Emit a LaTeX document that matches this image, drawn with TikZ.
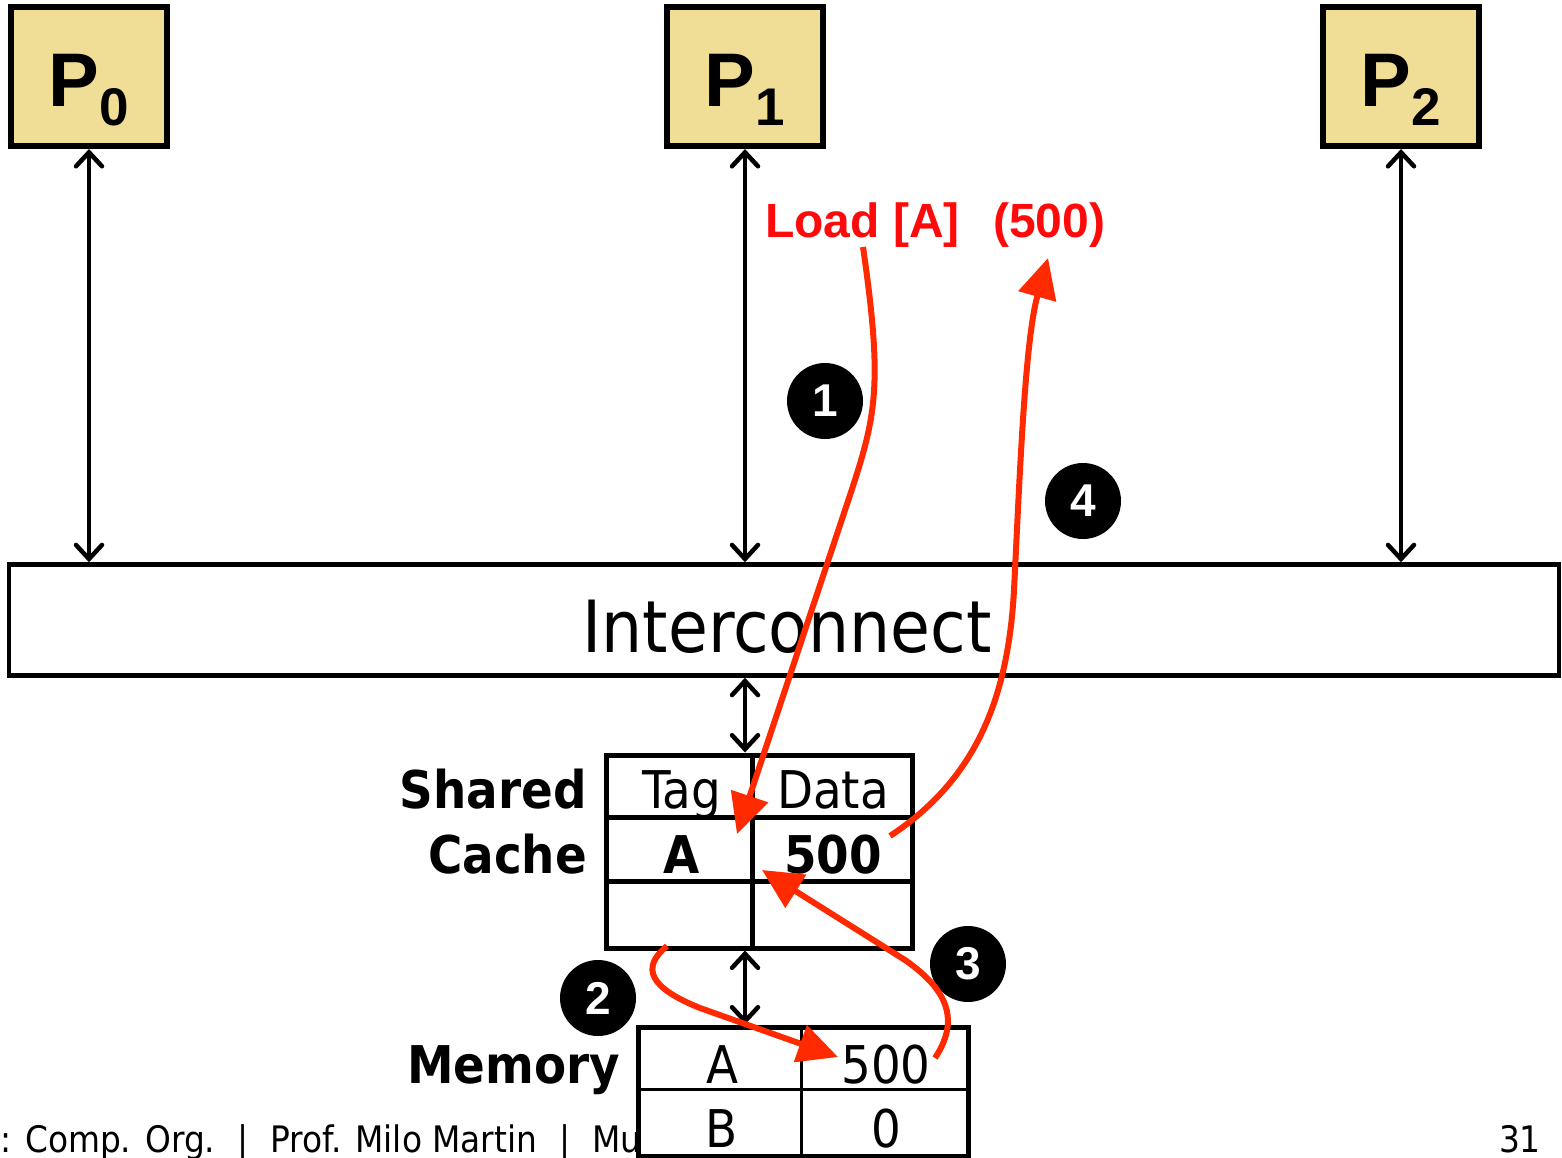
\documentclass[tikz,border=0pt]{standalone}
\usepackage{fontspec}
\usetikzlibrary{arrows.meta}
\newfontfamily\tah{DejaVu Sans Condensed}
\newfontfamily\ari{Liberation Sans}
\definecolor{procfill}{HTML}{F0DE96}
\definecolor{redtxt}{HTML}{FF0A0A}
\definecolor{redarr}{HTML}{FF2A00}
\newcommand{\fsz}[1]{\fontsize{#1}{#1}\selectfont}
\tikzset{
  proc/.style={draw=black, line width=6pt, fill=procfill, minimum width=156pt, minimum height=139pt, inner sep=0pt},
  bus/.style={black, line width=4.5pt, {Straight Barb[length=14pt,width=26pt,line cap=round]}-{Straight Barb[length=14pt,width=26pt,line cap=round]}},
  redpath/.style={redarr, line width=6pt, -{Triangle[length=40pt,width=38pt]}},
  badge/.style={circle, fill=black, minimum size=76pt, inner sep=0pt, text=white, font=\ari\bfseries\fsz{46}},
  cell/.style={anchor=base, inner sep=0pt, font=\tah\fsz{52}},
  bcell/.style={anchor=base, inner sep=0pt, font=\tah\bfseries\fsz{52}},
  tbl/.style={draw=black, line width=5pt, fill=white, inner sep=0pt}
}
\begin{document}
\begin{tikzpicture}[x=1pt,y=-1pt]
\useasboundingbox (0,0) rectangle (1562,1158);
% footer
\node[anchor=base west, inner sep=0pt, font=\tah\fsz{36.5}] (foot) at (0,1152) {: Comp. Org.\hspace{22pt}|\hspace{22pt}Prof. Milo Martin\hspace{22pt}|\hspace{22pt}Mu};
\node[anchor=base east, inner sep=0pt, font=\tah\fsz{36.5}] (pg) at (1541,1152) {31};
% processors
\node[proc] (P0) at (89,76.5) {};
\node[proc] (P1) at (745,76.5) {};
\node[proc] (P2) at (1401,76.5) {};
\foreach \n/\x in {0/89,1/745,2/1401}{
  \node[anchor=base, inner sep=0pt, font=\ari\bfseries] (lab\n) at (\x,107) {\fsz{76}P\raisebox{-19pt}{\fsz{53}\n}};
}
% interconnect
\node[draw=black, line width=4.5pt, minimum width=1550pt, minimum height=111pt, inner sep=0pt] (ic) at (784,620) {};
\node[anchor=base, inner sep=0pt, font=\tah\fsz{72}] (ictext) at (787,652) {Interconnect};
% bus arrows
\draw[bus] (P0.south) -- (P0.south |- ic.north);
\draw[bus] (P1.south) -- (P1.south |- ic.north);
\draw[bus] (P2.south) -- (P2.south |- ic.north);
% shared cache
\node[tbl, minimum width=306pt, minimum height=193pt] (cache) at (759,851.5) {};
\draw[line width=4.5pt] (cache.north west) ++(0,65) coordinate (c1) -- (c1 -| cache.east);
\draw[line width=4.5pt] (cache.north west) ++(0,129) coordinate (c2) -- (c2 -| cache.east);
\draw[line width=4.5pt] (cache.north west) ++(149,0) coordinate (c3) -- (c3 |- cache.south);
\node[cell] (tag) at (682,808) {Tag};
\node[cell] (data) at (833,808) {Data};
\node[bcell] (ctagA) at (682,873) {A};
\node[bcell] (cdat) at (833,873) {500};
\node[anchor=base east, inner sep=0pt, font=\tah\bfseries\fsz{52}] (sh) at (587,808) {Shared};
\node[anchor=base east, inner sep=0pt, font=\tah\bfseries\fsz{52}] (ca) at (587,873) {Cache};
\draw[bus] (ic.south -| P1.south) -- (cache.north -| P1.south);
% memory
\node[tbl, minimum width=330pt, minimum height=129pt] (mem) at (803,1091.5) {};
\draw[line width=3.5pt] (mem.north west) ++(0,65) coordinate (m1) -- (m1 -| mem.east);
\draw[line width=3.5pt] (mem.north west) ++(166,0) coordinate (m2) -- (m2 |- mem.south);
\node[cell] (mA) at (722,1083) {A};
\node[cell] (m500) at (886,1083) {500};
\node[cell] (mB) at (722,1147) {B};
\node[cell] (m0) at (886,1147) {0};
\node[anchor=base east, inner sep=0pt, font=\tah\bfseries\fsz{52}] (memlab) at (620,1083) {Memory};
\draw[bus] (cache.south -| P1.south) -- (mem.north -| P1.south);
% red labels
\node[anchor=base west, inner sep=0pt, text=redtxt, font=\ari\bfseries\fsz{48}] (load) at (765,238) {Load [A]};
\node[anchor=base west, inner sep=0pt, text=redtxt, font=\ari\bfseries\fsz{48}] (val) at (993,238) {(500)};
% badges
\node[badge] (b1) at (825,401) {1};
\node[badge] (b4) at (1083,501) {4};
\node[badge] (b2) at (598,998) {2};
\node[badge] (b3) at (968,964) {3};
% red arrows
\coordinate (s1) at (863,247);
\coordinate (t1) at (737,834);
\draw[redpath] (s1) .. controls (885,400) and (875,420) .. (840,525) -- (t1);
\coordinate (s4) at (890,836);
\coordinate (t4) at (1048,258);
\draw[redpath] (s4) .. controls (975,780) and (1008,700) .. (1014,590) .. controls (1020,470) and (1025,340) .. (t4);
\coordinate (s2) at (667,946);
\coordinate (t2) at (838,1057);
\draw[redpath] (s2) .. controls (640,968) and (650,988) .. (700,1008) -- (t2);
\coordinate (s3) at (935,1058);
\coordinate (t3) at (762,870);
\draw[redpath] (s3) .. controls (960,1020) and (948,990) .. (905,960) -- (t3);
\end{tikzpicture}
\end{document}
